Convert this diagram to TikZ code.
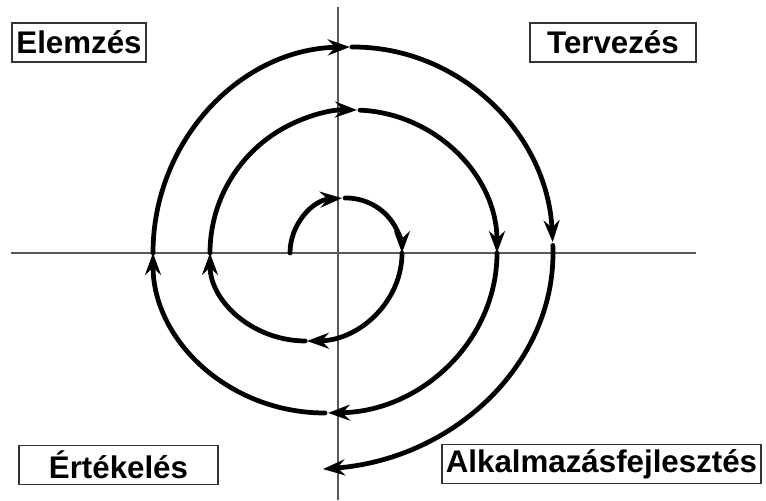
\documentclass[tikz,border=0pt]{standalone}
\usepackage{fontspec}
\setmainfont{Liberation Sans}
\usepackage{xcolor}
\usetikzlibrary{arrows.meta, positioning}

\begin{document}
\begin{tikzpicture}[
    x=0.02cm, y=0.02cm,
    phase/.style={draw=black!80, line width=0.8pt, inner sep=0.08cm,
                  minimum height=0.78cm,
                  font=\fontsize{17.8pt}{21pt}\selectfont\bfseries},
    axis/.style={black!65, line width=0.9pt},
    turn/.style={-{Stealth[length=0.44cm, width=0.32cm, inset=0.15cm]},
                 line width=2.7pt, line cap=round}
  ]
  \useasboundingbox (-338,-247) rectangle (428,253);

  % axes
  \coordinate (west) at (-327,0);
  \coordinate (east) at (358,0);
  \coordinate (north) at (0,246);
  \coordinate (south) at (0,-247);
  \draw[axis] (west) -- (east);
  \draw[axis] (north) -- (south);

  % phases
  \node[phase, minimum width=2.68cm] (elemzes) at (-259,210.5) {Elemzés};
  \node[phase, minimum width=3.32cm] (tervezes) at (275,210.5) {Tervezés};
  \node[phase, minimum width=3.98cm] (ertekeles) at (-219.5,-212) {Értékelés};
  \node[phase, minimum width=6.34cm] (alkalmazas) at (263.5,-211) {Alkalmazásfejlesztés};

  % spiral, centres of the half turns
  \coordinate (c1) at (8,0);
  \coordinate (c2) at (-32,0);
  \coordinate (c3) at (15.5,0);
  \coordinate (c4) at (-13,0);
  \coordinate (c5) at (15,0);
  \coordinate (c6) at (-38,0);

  \draw[turn] (c1) ++(180:56 and 55) arc[start angle=180, end angle=94, x radius=56, y radius=55];
  \draw[turn] (c1) ++(91:56 and 55) arc[start angle=91, end angle=0, x radius=56, y radius=55];
  \draw[turn] (c2) ++(0:96 and 88) arc[start angle=0, end angle=-89.4, x radius=96, y radius=88];
  \draw[turn] (c2) ++(-90.5:96 and 88) arc[start angle=-90.5, end angle=-180, x radius=96, y radius=88];
  \draw[turn] (c3) ++(180:143.5 and 143) arc[start angle=180, end angle=88.6, x radius=143.5, y radius=143];
  \draw[turn] (c3) ++(87.4:143.5 and 143) arc[start angle=87.4, end angle=0, x radius=143.5, y radius=143];
  \draw[turn] (c4) ++(0:172 and 160) arc[start angle=0, end angle=-89, x radius=172, y radius=160];
  \draw[turn] (c4) ++(-90:172 and 160) arc[start angle=-90, end angle=-180, x radius=172, y radius=160];
  \draw[turn] (c5) ++(180:200 and 206) arc[start angle=180, end angle=90.9, x radius=200, y radius=206];
  \draw[turn] (c5) ++(90.3:200 and 206) arc[start angle=90.3, end angle=3, x radius=200, y radius=206];
  \draw[turn] (c6) ++(2:253 and 217) arc[start angle=2, end angle=-84.8, x radius=253, y radius=217];
\end{tikzpicture}
\end{document}
